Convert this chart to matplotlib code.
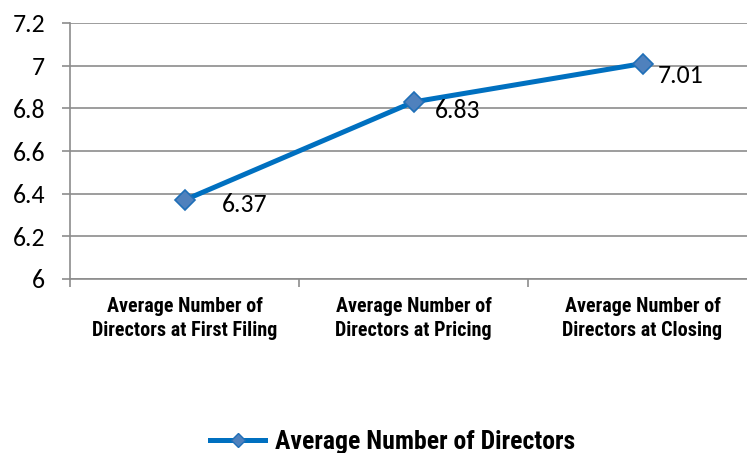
import matplotlib
matplotlib.use("Agg")
import matplotlib.pyplot as plt
from matplotlib.lines import Line2D

categories = ["Average Number of\nDirectors at First Filing",
              "Average Number of\nDirectors at Pricing",
              "Average Number of\nDirectors at Closing"]
values = [6.37, 6.83, 7.01]
yticks = [6, 6.2, 6.4, 6.6, 6.8, 7, 7.2]
ytick_labels = ["6", "6.2", "6.4", "6.6", "6.8", "7", "7.2"]
series_name = "Average Number of Directors"

# placement of each value label relative to its marker (pixels right, pixels down to baseline)
label_shift = [(37, 12), (21, 16), (15, 19)]

narrow = ["Roboto Condensed", "DejaVu Sans"]
body = ["Carlito", "DejaVu Sans"]

line_col = "#0070C0"
marker_fill = "#4F81BD"
marker_edge = "#1F6FB8"
grid_col = "#8C8C8C"

fig = plt.figure(figsize=(7.47, 4.53), dpi=100)
ax = fig.add_axes([70 / 747, 1 - 279 / 453, 687 / 747, 256 / 453])

x = [i + 0.5 for i in range(len(values))]
ax.plot(x, values, color=line_col, lw=3.6, marker="D", ms=10.5,
        mfc=marker_fill, mec=marker_edge, mew=1.2, zorder=3, clip_on=False)

for xi, v, (dx, dy) in zip(x, values, label_shift):
    ax.annotate(f"{v:.2f}", (xi, v), xytext=(dx, -dy), textcoords="offset pixels",
                ha="left", va="baseline", fontsize=18.5, family=body, color="black")

ax.set_xlim(0, len(values))
ax.set_ylim(6, 7.2)
ax.set_yticks(yticks)
ax.set_yticklabels(ytick_labels, family=body, fontsize=18.5)
ax.set_xticks(range(len(values) + 1))
ax.set_xticklabels([])
ax.set_xticks(x, minor=True)
ax.set_xticklabels(categories, minor=True, family=narrow, fontweight=700,
                   fontsize=14.5, linespacing=1.32)
ax.tick_params(axis="x", which="minor", length=0, pad=13)
ax.tick_params(axis="x", which="major", length=6, color=grid_col, width=1.2)
ax.tick_params(axis="y", length=6, color=grid_col, width=1.2, pad=12)

ax.grid(axis="y", color=grid_col, lw=1.2)
ax.set_axisbelow(True)
for s in ["top", "right"]:
    ax.spines[s].set_visible(False)
for s in ["left", "bottom"]:
    ax.spines[s].set_color(grid_col)
    ax.spines[s].set_linewidth(1.2)

handle = Line2D([], [], color=line_col, lw=3.6, marker="D", ms=7.5,
                mfc=marker_fill, mec=marker_edge, mew=1.0)
fig.legend([handle], [series_name], loc="center", bbox_to_anchor=(393 / 747, 1 - 442 / 453),
           frameon=False, prop={"family": narrow, "weight": 700, "size": 18.5},
           handlelength=2.14, handletextpad=0.39, borderpad=0)

fig.savefig("out.png", dpi=100)
